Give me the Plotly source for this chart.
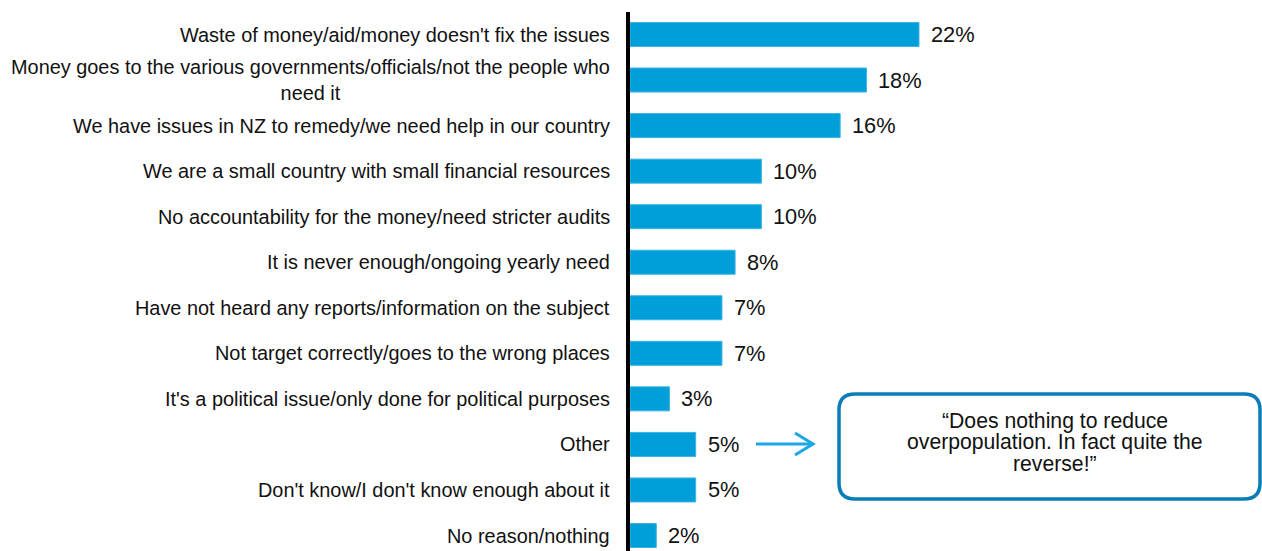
import plotly.graph_objects as go

# Reasons given, top to bottom, and the share of respondents giving each
reasons = [
    "Waste of money/aid/money doesn't fix the issues",
    "Money goes to the various governments/officials/not the people who<br>need it",
    "We have issues in NZ to remedy/we need help in our country",
    "We are a small country with small financial resources",
    "No accountability for the money/need stricter audits",
    "It is never enough/ongoing yearly need",
    "Have not heard any reports/information on the subject",
    "Not target correctly/goes to the wrong places",
    "It's a political issue/only done for political purposes",
    "Other",
    "Don't know/I don't know enough about it",
    "No reason/nothing",
]
shares = [22, 18, 16, 10, 10, 8, 7, 7, 3, 5, 5, 2]

quote_lines = [
    "\u201cDoes nothing to reduce",
    "overpopulation. In fact quite the",
    "reverse!\u201d",
]

W, H = 1262, 551
ML, MR, MT, MB = 630, 0, 12, 0
PX_PER_PCT = 13.136
BAR_BLUE = "#009fda"
FONT = "Arial, Liberation Sans, sans-serif"

plot_w = W - ML - MR
plot_h = H - MT - MB


def px(x):
    return (x - ML) / plot_w


def py(y):
    return (H - MB - y) / plot_h


fig = go.Figure()
fig.add_trace(go.Bar(
    x=shares,
    y=reasons,
    orientation="h",
    marker=dict(color=BAR_BLUE, line=dict(color="#3ab3e3", width=1)),
    hoverinfo="skip",
))

annotations = []
# category labels, right-aligned against the axis line
for r in reasons:
    annotations.append(dict(
        x=0, y=r, xref="paper", yref="y",
        text=r, showarrow=False, xanchor="right", yanchor="middle",
        align="center", xshift=-18,
        font=dict(family=FONT, size=19.9, color="#111111"),
    ))
# value labels beyond bar ends
for r, v in zip(reasons, shares):
    annotations.append(dict(
        x=v, y=r, xref="x", yref="y",
        text=f"{v}%", showarrow=False, xanchor="left", yanchor="middle",
        xshift=10,
        font=dict(family=FONT, size=21.8, color="#111111"),
    ))
# verbatim comment inside the callout box
for i, line in enumerate(quote_lines):
    annotations.append(dict(
        x=px(1055), y=py(421 + 21 * i), xref="paper", yref="paper",
        text=line, showarrow=False, xanchor="center", yanchor="middle",
        font=dict(family=FONT, size=21.2, color="#111111"),
    ))

# rounded callout box
x0, x1, y0, y1, rad = 839, 1260, 394, 499, 16


def rounded_rect(x0, y0, x1, y1, r):
    pts = [
        f"M {px(x0 + r)},{py(y0)}",
        f"L {px(x1 - r)},{py(y0)}",
        f"Q {px(x1)},{py(y0)} {px(x1)},{py(y0 + r)}",
        f"L {px(x1)},{py(y1 - r)}",
        f"Q {px(x1)},{py(y1)} {px(x1 - r)},{py(y1)}",
        f"L {px(x0 + r)},{py(y1)}",
        f"Q {px(x0)},{py(y1)} {px(x0)},{py(y1 - r)}",
        f"L {px(x0)},{py(y0 + r)}",
        f"Q {px(x0)},{py(y0)} {px(x0 + r)},{py(y0)}",
        "Z",
    ]
    return " ".join(pts)


shapes = [
    dict(type="path", xref="paper", yref="paper",
         path=rounded_rect(x0, y0, x1, y1, rad),
         line=dict(color="#0a7db8", width=3.5), fillcolor="rgba(0,0,0,0)"),
    # arrow pointing from "Other" to the callout
    dict(type="line", xref="paper", yref="paper",
         x0=px(756), y0=py(444), x1=px(812), y1=py(444),
         line=dict(color="#1aa8e6", width=3)),
    dict(type="path", xref="paper", yref="paper",
         path=f"M {px(795)},{py(433)} L {px(813)},{py(444)} L {px(795)},{py(455)}",
         line=dict(color="#1aa8e6", width=3), fillcolor="rgba(0,0,0,0)"),
]

n = len(reasons)
top_pad = 22.5 / 45.55
bottom_pad = 15.5 / 45.55

fig.update_layout(
    width=W, height=H,
    margin=dict(l=ML, r=MR, t=MT, b=MB, pad=0),
    paper_bgcolor="white", plot_bgcolor="white",
    showlegend=False,
    bargap=1 - 24 / 45.55,
    xaxis=dict(range=[0, plot_w / PX_PER_PCT], visible=False, fixedrange=True),
    yaxis=dict(
        type="category",
        categoryorder="array", categoryarray=reasons,
        range=[n - 1 + bottom_pad, -top_pad],
        showticklabels=False, ticks="", showgrid=False, zeroline=False,
        showline=True, linecolor="black", linewidth=3.5,
        fixedrange=True,
    ),
    annotations=annotations,
    shapes=shapes,
)

fig.write_html("out.html")
